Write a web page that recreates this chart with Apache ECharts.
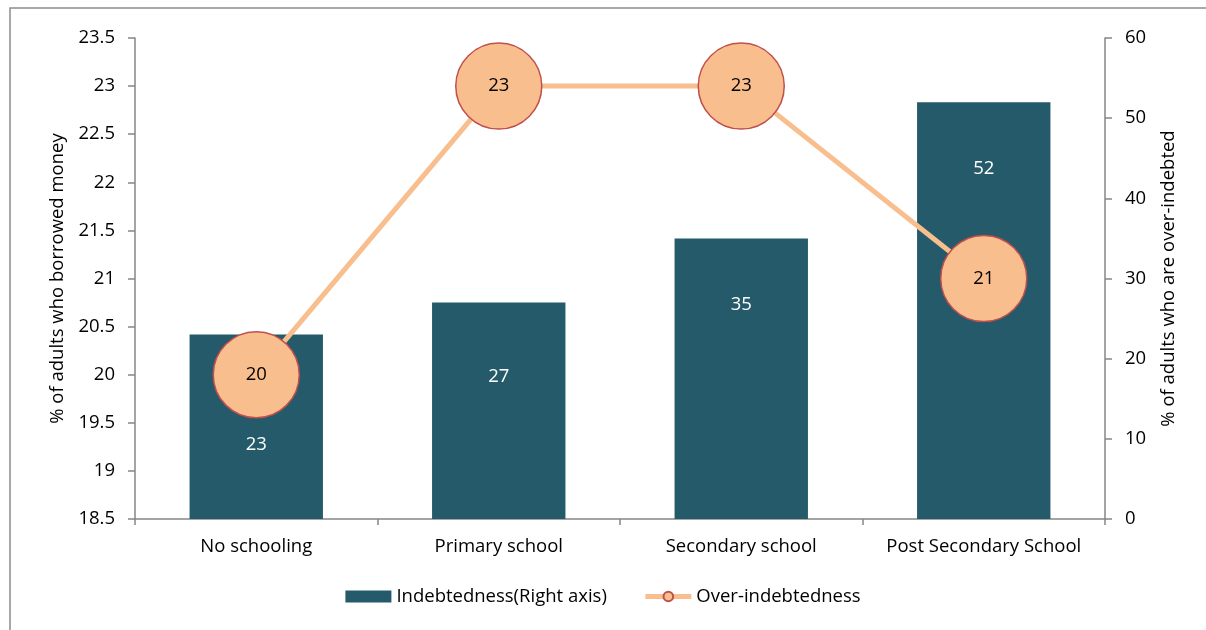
<!DOCTYPE html>
<html>
<head>
<meta charset="utf-8">
<script src="https://cdn.jsdelivr.net/npm/echarts@6/dist/echarts.min.js"></script>
<style>
  html, body { margin: 0; padding: 0; background: #fff; }
  #chart { width: 1206px; height: 630px; }
</style>
</head>
<body>
<div id="chart"></div>
<script>
// Education level vs borrowing and over-indebtedness
const categories = ['No schooling', 'Primary school', 'Secondary school', 'Post Secondary School'];
const indebtedness = [23, 27, 35, 52];       // % of adults who borrowed money (right axis)
const overIndebtedness = [20, 23, 23, 21];   // % of adults who are over-indebted (left axis)

// distance of each bar's value label below the bar top
const barLabelGap = [101, 65, 57, 57];

const FONT = '"Open Sans", sans-serif';
const FS = 18.5;
const AXIS_GREY = '#868686';
const BAR_COLOR = '#245A69';
const LINE_COLOR = '#F9BE8D';

const chart = echarts.init(document.getElementById('chart'));

chart.setOption({
  animation: false,
  textStyle: { fontFamily: FONT },
  graphic: [{
    type: 'rect',
    shape: { x: 10, y: 8, width: 1220, height: 660 },
    style: { fill: 'none', stroke: '#8c8c8c', lineWidth: 1.5 },
    silent: true,
    z: -10
  }],
  grid: { left: 135, right: 101, top: 38, bottom: 111 },
  legend: {
    bottom: 19,
    left: 'center',
    itemGap: 36,
    itemWidth: 46,
    itemHeight: 12,
    textStyle: { fontSize: FS, color: '#000', fontFamily: FONT },
    data: [
      { name: 'Indebtedness(Right axis)', icon: 'rect' },
      { name: 'Over-indebtedness', lineStyle: { width: 5 } }
    ]
  },
  xAxis: {
    type: 'category',
    data: categories,
    axisLine: { lineStyle: { color: AXIS_GREY, width: 1.5 } },
    axisTick: { show: true, interval: 0, length: 6, lineStyle: { color: AXIS_GREY, width: 1.5 } },
    axisLabel: { interval: 0, hideOverlap: false, color: '#000', fontSize: FS, margin: 18, fontFamily: FONT }
  },
  yAxis: [
    {
      type: 'value',
      min: 18.5, max: 23.5, interval: 0.5,
      position: 'left',
      name: '% of adults who borrowed money',
      nameLocation: 'middle',
      nameGap: 66,
      nameTextStyle: { fontSize: FS, color: '#000', fontFamily: FONT },
      axisLine: { show: true, lineStyle: { color: AXIS_GREY, width: 1.5 } },
      axisTick: { show: true, length: 7, lineStyle: { color: AXIS_GREY, width: 1.5 } },
      axisLabel: { color: '#000', fontSize: FS, margin: 20, fontFamily: FONT },
      splitLine: { show: false }
    },
    {
      type: 'value',
      min: 0, max: 60, interval: 10,
      position: 'right',
      name: '% of adults who are over-indebted',
      nameLocation: 'middle',
      nameGap: 54,
      nameRotate: 90,
      nameTextStyle: { fontSize: FS, color: '#000', fontFamily: FONT },
      axisLine: { show: true, lineStyle: { color: AXIS_GREY, width: 1.5 } },
      axisTick: { show: true, length: 7, lineStyle: { color: AXIS_GREY, width: 1.5 } },
      axisLabel: { color: '#000', fontSize: FS, margin: 20, fontFamily: FONT },
      splitLine: { show: false }
    }
  ],
  series: [
    {
      name: 'Indebtedness(Right axis)',
      type: 'bar',
      yAxisIndex: 1,
      barWidth: '55%',
      itemStyle: { color: BAR_COLOR },
      data: indebtedness.map((v, i) => ({
        value: v,
        label: {
          show: true,
          position: 'insideTop',
          distance: barLabelGap[i],
          color: '#fff',
          fontSize: FS,
          fontFamily: FONT
        }
      })),
      z: 1
    },
    {
      name: 'Over-indebtedness',
      type: 'line',
      yAxisIndex: 0,
      data: overIndebtedness,
      symbol: 'circle',
      symbolSize: 86,
      lineStyle: { color: LINE_COLOR, width: 5 },
      itemStyle: { color: LINE_COLOR, borderColor: '#C0504D', borderWidth: 1.5 },
      label: {
        show: true,
        position: 'inside',
        color: '#000',
        fontSize: FS,
        fontFamily: FONT
      },
      z: 3
    }
  ]
});
</script>
</body>
</html>
